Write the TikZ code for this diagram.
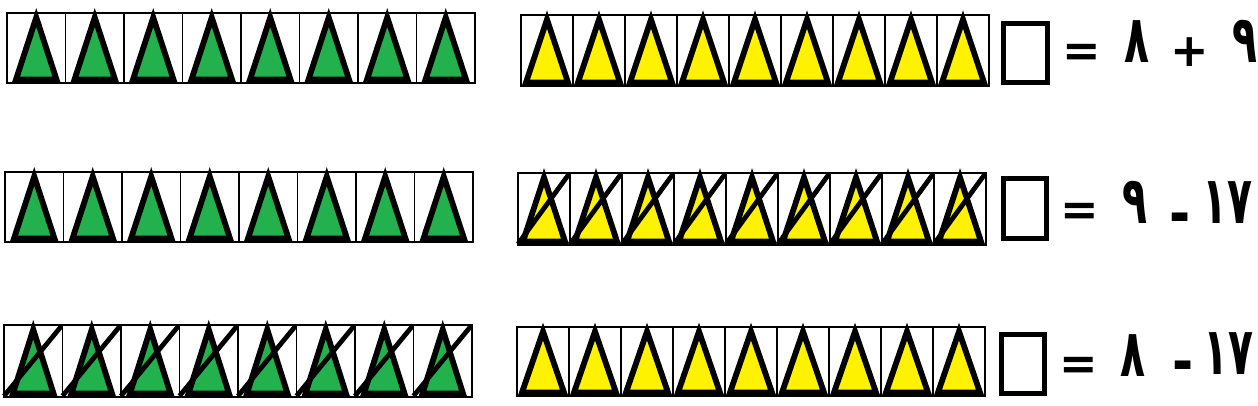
\documentclass[tikz,border=0pt]{standalone}
\usepackage{fontspec}
\TeXXeTstate=1
\newfontfamily\arabicfont[Script=Arabic,FakeStretch=0.62]{DejaVu Sans}
\newfontfamily\symfont{DejaVu Sans}
\newfontfamily\minusfont[FakeStretch=0.85]{DejaVu Sans}
\definecolor{tgreen}{HTML}{22B14C}
\definecolor{tyellow}{HTML}{FFF200}
\tikzset{
  cellbox/.style={draw=black,line width=1.6pt},
  outerbox/.style={draw=black,line width=2.4pt},
  tri/.style={draw=black,line width=5.8pt,line join=miter,miter limit=10},
  crossline/.style={draw=black,line width=4.8pt},
  answerbox/.style={draw=black,line width=5pt},
  ar/.style={font=\arabicfont\bfseries\fontsize{66}{68}\selectfont,inner sep=0pt,anchor=base},
  op/.style={font=\symfont\bfseries\fontsize{46}{48}\selectfont,inner sep=0pt},
  mn/.style={font=\minusfont\bfseries\fontsize{60}{62}\selectfont,inner sep=0pt},
}
% #1 x0, #2 top, #3 bottom, #4 cell width, #5 count, #6 colour, #7 triangle inset, #8 crossed (1/0)
\newcommand{\cellrow}[8]{%
  \foreach \i in {1,...,#5}{%
    \pgfmathsetmacro{\xa}{#1+(\i-1)*#4}
    \pgfmathsetmacro{\xb}{#1+\i*#4}
    \pgfmathsetmacro{\xc}{#1+(\i-0.5)*#4}
    \draw[cellbox,fill=white] (\xa,#2) rectangle (\xb,#3);
    \draw[tri,fill=#6] (\xc,#2+4.5) -- (\xa+#7,#3-3.5) -- (\xb-#7,#3-3.5) -- cycle;
    \ifnum#8=1 \draw[crossline] (\xa,#3-1) -- (\xb-1,#2+1); \fi
  }
  \draw[outerbox] (#1,#2) rectangle (#1+#5*#4,#3);
}
\begin{document}
\begin{tikzpicture}[x=1pt,y=-1pt]
\useasboundingbox (0,0) rectangle (1258,406);
\fill[white] (0,0) rectangle (1258,406);
% row 1
\cellrow{7}{13}{83}{58.5}{8}{tgreen}{9}{0}
\cellrow{521}{15}{86}{52}{9}{tyellow}{5}{0}
\draw[answerbox] (1003,24) rectangle (1047,83);
\node[op] (eq1) at (1082,55) {=};
\node[ar] (a1) at (1137,63) {\beginR ٨\endR};
\node[op] (p1) at (1190,52) {+};
\node[ar] (b1) at (1245,63) {\beginR ٩\endR};
% row 2
\cellrow{5}{172}{242}{58.5}{8}{tgreen}{9}{0}
\cellrow{518}{173}{245}{52}{9}{tyellow}{5}{1}
\draw[answerbox] (1003,179) rectangle (1046,238);
\node[op] (eq2) at (1080,214) {=};
\node[ar] (a2) at (1135,223) {\beginR ٩\endR};
\node[mn] (m2) at (1180,224) {-};
\node[ar] (b2) at (1227,223) {١٧};
% row 3
\cellrow{4}{325}{397}{58.5}{8}{tgreen}{9}{1}
\cellrow{517}{327}{396}{52}{9}{tyellow}{5}{0}
\draw[answerbox] (1001,334) rectangle (1044,393);
\node[op] (eq3) at (1079,368) {=};
\node[ar] (a3) at (1133,376) {\beginR ٨\endR};
\node[mn] (m3) at (1183,372) {-};
\node[ar] (b3) at (1228,374) {١٧};
\end{tikzpicture}
\end{document}
